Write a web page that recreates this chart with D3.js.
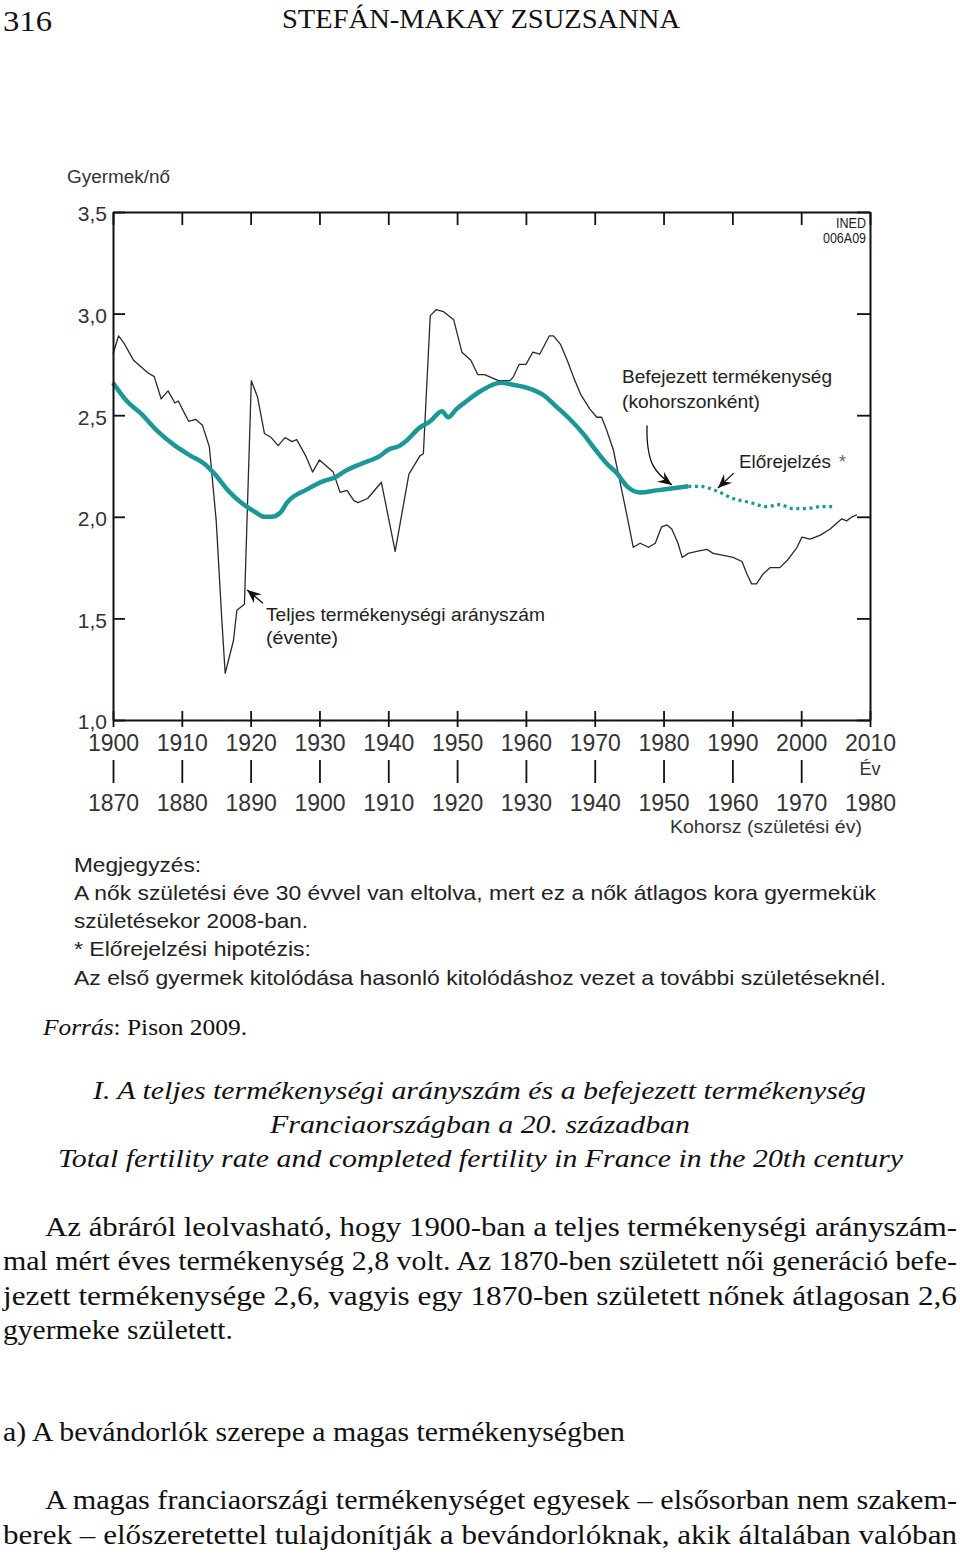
<!DOCTYPE html>
<html><head><meta charset="utf-8">
<script src="https://cdn.jsdelivr.net/npm/d3@7/dist/d3.min.js"></script>
<style>
html,body{margin:0;padding:0;background:#fff;}
svg{display:block;}
</style></head>
<body>
<svg id="page" width="960" height="1555"></svg>
<script>
// ---------- DATA ----------
// Total fertility rate (annual), by calendar year
const tfrYears = [1900,1900.8,1901.5,1903,1905,1906,1907,1908,1909,1909.5,1910,1911,1912,1913,1914,1915,1915.8,1916.3,1917.5,1918,1919.1,1920.1,1921,1922,1923,1924,1925,1926,1926.7,1928,1929,1930,1932,1933,1934,1935,1935.6,1937,1939,1941,1943,1944.6,1945.1,1946.1,1947,1948,1949.5,1950.7,1952,1953,1954,1956,1957.7,1958.2,1959,1960,1961,1962,1963.4,1964,1965,1966,1967,1968,1969.3,1970.3,1971,1971.7,1972.7,1973.5,1974.6,1975.6,1976.6,1977.8,1978.8,1979.7,1980.5,1981.2,1982.1,1982.7,1983.6,1984.8,1986.3,1987.2,1988.7,1990.1,1991.4,1992.1,1992.8,1993.5,1994.5,1995.5,1996.9,1998.1,1999.4,2000.1,2001.3,2002.8,2004.2,2005.2,2005.9,2006.6,2007.4,2008.1];
const tfrValues = [2.80,2.89,2.86,2.77,2.71,2.69,2.58,2.62,2.56,2.57,2.535,2.47,2.48,2.45,2.345,1.98,1.50,1.23,1.39,1.54,1.57,2.67,2.59,2.41,2.39,2.35,2.39,2.37,2.38,2.30,2.22,2.28,2.22,2.12,2.13,2.08,2.07,2.09,2.17,1.83,2.21,2.30,2.31,2.99,3.02,3.01,2.97,2.81,2.77,2.70,2.70,2.67,2.67,2.69,2.75,2.75,2.81,2.80,2.89,2.89,2.85,2.77,2.68,2.60,2.53,2.49,2.49,2.43,2.33,2.20,2.02,1.85,1.87,1.85,1.87,1.95,1.96,1.94,1.87,1.80,1.82,1.83,1.84,1.82,1.81,1.80,1.78,1.72,1.67,1.67,1.72,1.75,1.75,1.79,1.85,1.90,1.89,1.91,1.94,1.97,1.99,1.98,2.00,2.01];

// Completed fertility, by cohort (birth year of women)
const cohorts = [1870,1872,1874,1876.5,1879,1881.3,1883.3,1884.8,1886.7,1888.6,1890.6,1892,1893,1894.3,1895.3,1898.2,1901,1902,1904,1906,1908.8,1910,1911.7,1912.5,1914.6,1916.1,1917.8,1918.7,1919.9,1921.4,1923.5,1926.3,1928.1,1930.6,1932.5,1934.5,1936.4,1938.3,1940.1,1941.8,1943.2,1944.7,1946.6,1949,1951.4,1953.6];
const completedValues = [2.66,2.57,2.51,2.42,2.35,2.30,2.26,2.21,2.13,2.07,2.025,2.00,2.00,2.02,2.07,2.135,2.18,2.19,2.23,2.26,2.30,2.33,2.35,2.37,2.44,2.47,2.52,2.49,2.53,2.57,2.62,2.66,2.65,2.63,2.60,2.54,2.48,2.41,2.33,2.26,2.215,2.15,2.12,2.13,2.14,2.15];

// Forecast of completed fertility (dotted)
const forecastCohorts = [1953.6,1955.3,1957.5,1960.1,1962.6,1965,1966.9,1968.8,1970.8,1972.8,1974.5];
const forecastValues = [2.15,2.15,2.13,2.09,2.07,2.05,2.06,2.04,2.04,2.05,2.05];

const yTickValues = [1.0,1.5,2.0,2.5,3.0,3.5];
const yTickLabels = ["1,0","1,5","2,0","2,5","3,0","3,5"];
const yearTicks = [1900,1910,1920,1930,1940,1950,1960,1970,1980,1990,2000,2010];
const cohortTicks = [1870,1880,1890,1900,1910,1920,1930,1940,1950,1960,1970,1980];

// ---------- LAYOUT ----------
const svg = d3.select("#page");
const L = 113, R = 870, T = 212, B = 720;
const x = d3.scaleLinear().domain([1900,2010]).range([L,R]);
const xc = d3.scaleLinear().domain([1870,1980]).range([L,R]);
const y = d3.scaleLinear().domain([1.0,3.5]).range([B,T]);

const SANS = "'Liberation Sans', Arial, sans-serif";
const SERIF = "'Liberation Serif', 'Times New Roman', serif";
const TEAL = "#1c9797";
const INK = "#2a2a2a";

function txt(g, s, o){
  const t = g.append("text").text(s)
    .attr("x", o.x).attr("y", o.y)
    .attr("font-family", o.font || SERIF)
    .attr("font-size", o.size)
    .attr("fill", o.fill || "#111");
  if (o.italic) t.attr("font-style","italic");
  if (o.anchor) t.attr("text-anchor", o.anchor);
  if (o.w) t.attr("textLength", o.w).attr("lengthAdjust", o.adj || "spacingAndGlyphs");
  return t;
}
// header
txt(svg,"316",{x:3,y:31,size:30,w:49});
txt(svg,"STEFÁN-MAKAY ZSUZSANNA",{x:282,y:28,size:28,w:398});

// ---------- CHART ----------
const chart = svg.append("g");

const tfrData = tfrYears.map((d,i)=>[d,tfrValues[i]]);
const compData = cohorts.map((d,i)=>[d,completedValues[i]]);
const fcData = forecastCohorts.map((d,i)=>[d,forecastValues[i]]);

chart.append("path").datum(tfrData)
  .attr("d", d3.line().x(d=>x(d[0])).y(d=>y(d[1])))
  .attr("fill","none").attr("stroke",INK).attr("stroke-width",1.3).attr("stroke-linejoin","round");

chart.append("path").datum(compData)
  .attr("d", d3.line().x(d=>xc(d[0])).y(d=>y(d[1])).curve(d3.curveMonotoneX))
  .attr("fill","none").attr("stroke",TEAL).attr("stroke-width",4.5).attr("stroke-linejoin","round");

chart.append("path").datum(fcData)
  .attr("d", d3.line().x(d=>xc(d[0])).y(d=>y(d[1])).curve(d3.curveMonotoneX))
  .attr("fill","none").attr("stroke",TEAL).attr("stroke-width",3.2).attr("stroke-dasharray","3,3.6");

// axes / frame
const axStyle = g => {
  g.selectAll("path.domain").attr("stroke","#111").attr("stroke-width",2);
  g.selectAll(".tick line").attr("stroke","#111").attr("stroke-width",1.8);
};
chart.append("g").attr("transform",`translate(${L},0)`)
  .call(d3.axisLeft(y).tickValues(yTickValues).tickSizeInner(-12).tickSizeOuter(0).tickPadding(6)
    .tickFormat((d,i)=>yTickLabels[i]))
  .call(axStyle)
  .call(g=>g.selectAll("text").attr("font-family",SANS).attr("font-size",21).attr("fill","#333").attr("dy","0.42em"));

chart.append("g").attr("transform",`translate(${R},0)`)
  .call(d3.axisRight(y).tickValues(yTickValues).tickSizeInner(-13).tickSizeOuter(0).tickFormat(""))
  .call(axStyle);

chart.append("g").attr("transform",`translate(0,${T})`)
  .call(d3.axisTop(x).tickValues(yearTicks).tickSizeInner(-13).tickSizeOuter(0).tickFormat(""))
  .call(axStyle);

chart.append("g").attr("transform",`translate(0,${B})`)
  .call(d3.axisBottom(x).tickValues(yearTicks).tickSizeOuter(0).tickFormat(d3.format("d")))
  .call(axStyle)
  .call(g=>{
    g.selectAll(".tick line").attr("y1",-9).attr("y2",7);
    g.selectAll(".tick text").attr("y",31).attr("dy",0).attr("font-family",SANS).attr("font-size",23).attr("fill","#333");
  });

// cohort axis (second row)
const cAx = chart.append("g").attr("transform",`translate(0,${B})`)
  .call(d3.axisBottom(xc).tickValues(cohortTicks).tickSizeOuter(0).tickFormat(d3.format("d")));
cAx.select("path.domain").remove();
cAx.selectAll(".tick line").attr("y1",40).attr("y2",63).attr("stroke","#111").attr("stroke-width",1.8)
  .filter(d=>d===1980).remove();
cAx.selectAll(".tick text").attr("y",91).attr("dy",0).attr("font-family",SANS).attr("font-size",23).attr("fill","#333");

// axis titles
txt(chart,"Gyermek/nő",{x:67,y:183,size:18,font:SANS,fill:"#333",w:103});
txt(chart,"Év",{x:x(2010),y:775,size:18,font:SANS,fill:"#333",anchor:"middle"});
txt(chart,"Kohorsz (születési év)",{x:670,y:833,size:18,font:SANS,fill:"#333",w:192});
txt(chart,"INED",{x:866,y:228,size:15,font:SANS,fill:"#222",anchor:"end",w:30});
txt(chart,"006A09",{x:866,y:243,size:15,font:SANS,fill:"#222",anchor:"end",w:43});

// annotations
txt(chart,"Befejezett termékenység",{x:622,y:383,size:18.5,font:SANS,fill:"#222",w:210});
txt(chart,"(kohorszonként)",{x:622,y:408,size:18.5,font:SANS,fill:"#222",w:138});
txt(chart,"Előrejelzés",{x:739,y:468,size:18.5,font:SANS,fill:"#222",w:92});
txt(chart,"*",{x:839,y:468,size:18,font:SANS,fill:"#666"});
txt(chart,"Teljes termékenységi arányszám",{x:266,y:621,size:18.5,font:SANS,fill:"#222",w:279});
txt(chart,"(évente)",{x:266,y:644,size:18.5,font:SANS,fill:"#222",w:72});

// arrowheads
const defs = svg.append("defs");
defs.append("marker").attr("id","ah").attr("viewBox","-14 -7 16 14")
  .attr("refX",0).attr("refY",0).attr("markerWidth",16).attr("markerHeight",14)
  .attr("markerUnits","userSpaceOnUse").attr("orient","auto")
  .append("path").attr("d","M0,0 L-14,-6 L-9,0 L-14,6 Z").attr("fill","#111");

const a1s = [x(1977.6), y(2.45)], a1e = [x(1981.2), y(2.157)];
chart.append("path")
  .attr("d",`M${a1s[0]},${a1s[1]} C${a1s[0]-1},${a1s[1]+38} ${a1s[0]+8},${a1e[1]-12} ${a1e[0]},${a1e[1]}`)
  .attr("fill","none").attr("stroke","#111").attr("stroke-width",1.3).attr("marker-end","url(#ah)");
chart.append("path")
  .attr("d",`M${x(1990.2)},${y(2.215)} L${x(1987.9)},${y(2.142)}`)
  .attr("fill","none").attr("stroke","#111").attr("stroke-width",1.3).attr("marker-end","url(#ah)");
chart.append("path")
  .attr("d",`M${x(1921.8)},${y(1.575)} L${x(1919.5)},${y(1.64)}`)
  .attr("fill","none").attr("stroke","#111").attr("stroke-width",1.3).attr("marker-end","url(#ah)");

// notes
const NOTE = "'Liberation Sans Narrow', 'Liberation Sans', Arial, sans-serif";
const notes = [
  ["Megjegyzés:",127],
  ["A nők születési éve 30 évvel van eltolva, mert ez a nők átlagos kora gyermekük",802],
  ["születésekor 2008-ban.",234],
  ["* Előrejelzési hipotézis:",237],
  ["Az első gyermek kitolódása hasonló kitolódáshoz vezet a további születéseknél.",812]
];
const noteY = [872,900,928,956,985];
notes.forEach((n,i)=>txt(svg,n[0],{x:74,y:noteY[i],size:21,font:NOTE,fill:"#222",w:n[1]}));

// source
const src = svg.append("text").attr("x",43).attr("y",1035).attr("font-family",SERIF).attr("font-size",23).attr("fill","#111")
  .attr("textLength",204).attr("lengthAdjust","spacingAndGlyphs");
src.append("tspan").attr("font-style","italic").text("Forrás");
src.append("tspan").text(": Pison 2009.");

// caption
txt(svg,"I. A teljes termékenységi arányszám és a befejezett termékenység",{x:93,y:1099,size:26,italic:true,w:773});
txt(svg,"Franciaországban a 20. században",{x:270,y:1133,size:26,italic:true,w:420});
txt(svg,"Total fertility rate and completed fertility in France in the 20th century",{x:58,y:1167,size:26,italic:true,w:845});

// body text
const body = [
  ["Az ábráról leolvasható, hogy 1900-ban a teljes termékenységi arányszám-",45,1236,912],
  ["mal mért éves termékenység 2,8 volt. Az 1870-ben született női generáció befe-",3,1270,954],
  ["jezett termékenysége 2,6, vagyis egy 1870-ben született nőnek átlagosan 2,6",3,1305,954],
  ["gyermeke született.",3,1339,230],
  ["a) A bevándorlók szerepe a magas termékenységben",3,1441,622],
  ["A magas franciaországi termékenységet egyesek – elsősorban nem szakem-",45,1509,912],
  ["berek – előszeretettel tulajdonítják a bevándorlóknak, akik általában valóban",3,1544,954]
];
body.forEach(b=>txt(svg,b[0],{x:b[1],y:b[2],size:27,w:b[3]}));
</script>
</body></html>
